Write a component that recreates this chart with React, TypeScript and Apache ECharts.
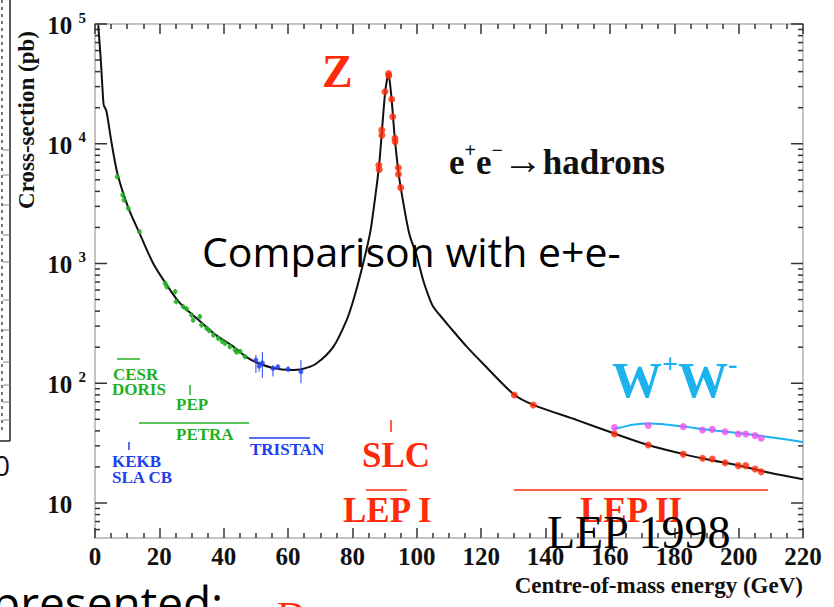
import React, { useEffect, useRef } from 'react';
import * as echarts from 'echarts';

// Theory curve e+e- -> hadrons (E in GeV, sigma in pb)
const curveE = [1.0, 1.8, 2.5, 2.75, 3.1, 3.6, 5.2, 7.0, 10.4, 13.8, 18.1, 21.7, 26.4, 32.6, 37.8, 43.0, 47.1, 50.2, 55.4, 60.6, 64.2, 68.9, 74.1, 78.2, 80.3, 82.9, 85.4, 86.2, 88.2, 89.1, 90.1, 90.7, 91.15, 91.6, 92.2, 92.6, 93.2, 94.25, 95.0, 97.6, 100.0, 102.0, 103.6, 105.0, 107.0, 110.0, 115.5, 120.0, 130.3, 136.2, 150.0, 161.4, 171.9, 182.8, 190.0, 200.0, 210.0, 220.0];
const curveSigma = [98000, 50000, 24000, 20800, 20000, 18500, 10000, 5600, 2900, 1800, 1000, 700, 466, 330, 250, 202, 165, 149, 134, 129, 131, 147, 202, 337, 495, 900, 1750, 2400, 6300, 12200, 26000, 34000, 37500, 33000, 23000, 17000, 10800, 5900, 4300, 1800, 1150, 720, 540, 440, 375, 300, 202, 151, 80, 66, 49, 38, 30.5, 25.6, 23.2, 20.6, 17.8, 15.8];

// W+W- theory curve
const wwE = [161.0, 163.0, 167.0, 172.7, 182.8, 190.0, 196.3, 208.7, 218.0, 220.0];
const wwSigma = [41.5, 42.5, 45.0, 46.0, 43.5, 41.0, 39.4, 35.8, 33.0, 32.3];

// Low-energy data [E, sigma, lo, hi]
const greenPoints = [
  [6.9, 5300, 5050, 5550], [8.6, 3730, 3550, 3900], [9.0, 3390, 3230, 3550], [10.35, 2890, 2750, 3030],
  [13.8, 1845, 1760, 1930], [21.8, 684, 650, 720], [22.3, 640, 605, 675], [24.9, 582, 550, 615],
  [25.2, 480, 455, 505], [27.4, 436, 413, 460], [28.5, 417, 395, 440], [30.0, 372, 352, 392],
  [30.5, 337, 320, 355], [32.6, 360, 340, 380], [33.1, 306, 290, 323], [34.7, 288, 273, 304],
  [35.5, 275, 261, 290], [36.8, 253, 240, 267], [38.3, 237, 225, 250], [39.5, 224, 213, 236],
  [40.4, 215, 204, 227], [41.9, 202, 192, 213], [43.5, 190, 180, 200], [44.0, 182, 173, 192],
  [45.1, 184, 175, 194], [46.6, 167, 158, 176],
];
const bluePoints = [
  [50.0, 156, 122, 172], [51.0, 139, 125, 152], [52.0, 148, 111, 182], [55.3, 133, 114, 142],
  [56.8, 137, 130, 144], [60.0, 131, 124, 138], [64.0, 125, 100, 156],
];
// LEP / SLC data
const zPeakE = [88.2, 88.3, 89.1, 89.15, 90.1, 91.2, 91.3, 92.2, 92.5, 93.2, 93.25, 94.25, 94.3, 95.0];
const zPeakSigma = [6600, 6100, 13000, 11800, 27200, 38500, 37000, 23500, 16800, 11100, 10400, 6300, 5560, 4300];
const lep2E = [130.3, 136.2, 161.4, 171.9, 182.8, 188.8, 191.8, 195.8, 199.9, 202.2, 205.1, 207.0];
const lep2Sigma = [79.8, 65.8, 37.7, 30.5, 25.6, 23.6, 23.3, 21.7, 20.5, 20.5, 19.2, 18.2];
const wwDataE = [161.4, 171.9, 182.8, 188.8, 191.8, 195.8, 199.9, 202.2, 205.1, 207.0];
const wwDataSigma = [42.6, 44.3, 43.4, 40.7, 41.2, 39.4, 37.7, 37.7, 36.5, 34.7];

// Axis ticks
const yMajorTicks = [10, 100, 1000, 10000, 100000];
const yMinorTicks = [6, 7, 8, 9, 20, 30, 40, 50, 60, 70, 80, 90, 200, 300, 400, 500, 600, 700, 800, 900,
  2000, 3000, 4000, 5000, 6000, 7000, 8000, 9000, 20000, 30000, 40000, 50000, 60000, 70000, 80000, 90000];

const SERIF = 'Liberation Serif';
const SANS = 'Open Sans';
const RED = '#ff2a0a';
const GREEN = '#22b022';
const BLUE = '#2040f0';
const CYAN = '#1ab2ef';
const MAGENTA = '#f050f0';

const zip = (a: number[], b: number[]) => a.map((v, i) => [v, b[i]]);

const txt = (x: number, y: number, text: string, size: number, fill: string, extra: any = {}) => ({
  type: 'text', x, y, z: 100,
  style: {
    text, fontFamily: SERIF, fontWeight: 'bold', fontSize: size, fill,
    align: 'left', verticalAlign: 'middle', ...extra,
  },
});
const ln = (x1: number, y1: number, x2: number, y2: number, stroke: string, lineWidth = 1.5) => ({
  type: 'line', z: 100, shape: { x1, y1, x2, y2 }, style: { stroke, lineWidth },
});

const errorBarSeries = (pts: number[][], color: string) => ({
  type: 'custom',
  silent: true,
  z: 3,
  data: pts.map((p) => [p[0], p[2], p[3]]),
  encode: { x: 0, y: [1, 2] },
  renderItem: (_p: any, api: any) => {
    const a = api.coord([api.value(0), api.value(1)]);
    const b = api.coord([api.value(0), api.value(2)]);
    return { type: 'line', shape: { x1: a[0], y1: a[1], x2: b[0], y2: b[1] }, style: { stroke: color, lineWidth: 1 } };
  },
});

export default function App() {
  const ref = useRef<HTMLDivElement>(null);
  useEffect(() => {
    const chart = echarts.init(ref.current!, null, { renderer: 'svg' });
    const axisLineStyle = { color: '#c4c4c4', width: 2 };
    const tickStyle = { color: '#333', width: 1.5 };
    const xCommon = {
      type: 'value', min: 0, max: 220, interval: 20,
      axisLine: { show: true, onZero: false, lineStyle: axisLineStyle },
      axisTick: { show: true, inside: true, length: 10, lineStyle: tickStyle },
      minorTick: { show: true, splitNumber: 4, length: 5, lineStyle: tickStyle },
      splitLine: { show: false }, minorSplitLine: { show: false },
    };
    const yCommon = {
      type: 'log', logBase: 10, min: 5.1, max: 100000,
      axisLine: { show: true, onZero: false, lineStyle: axisLineStyle },
      axisTick: { show: false }, splitLine: { show: false },
    };
    const yTitle: any = txt(26, 120, 'Cross-section (pb)', 23, '#111', { align: 'center' });
    yTitle.rotation = Math.PI / 2;
    const option: any = {
      animation: false,
      backgroundColor: '#fff',
      grid: { left: 95, right: 31, top: 24, bottom: 69, containLabel: false },
      xAxis: [
        {
          ...xCommon, position: 'bottom',
          axisLabel: { fontFamily: SERIF, fontWeight: 'bold', fontSize: 25, color: '#111', margin: 6 },
        },
        { ...xCommon, position: 'top', axisLabel: { show: false } },
      ],
      yAxis: [
        {
          ...yCommon, position: 'left',
          axisLabel: {
            margin: 9,
            formatter: (v: number) => {
              const lg = Math.log10(v);
              const e = Math.round(lg);
              if (Math.abs(lg - e) > 1e-6) return '';
              if (e === 1) return '{b|10 }{h|1}';
              return '{b|10 }{s|' + e + '}';
            },
            rich: {
              b: { fontFamily: SERIF, fontWeight: 'bold', fontSize: 25, color: '#111', lineHeight: 28, verticalAlign: 'bottom' },
              s: { fontFamily: SERIF, fontWeight: 'bold', fontSize: 15, color: '#111', lineHeight: 12, verticalAlign: 'top' },
              h: { fontFamily: SERIF, fontWeight: 'bold', fontSize: 15, color: 'rgba(0,0,0,0)', lineHeight: 12, verticalAlign: 'top' },
            },
          },
        },
        { ...yCommon, position: 'right', axisLabel: { show: false } },
      ],
      series: [
        {
          type: 'custom', silent: true, clip: false, z: 1,
          data: [...yMajorTicks.map((v) => [0, v, 1]), ...yMinorTicks.map((v) => [0, v, 0])],
          encode: { x: 0, y: 1 },
          renderItem: (_p: any, api: any) => {
            const v = api.value(1);
            const len = api.value(2) ? 12 : 5;
            const l = api.coord([0, v]);
            const r = api.coord([220, v]);
            return {
              type: 'group',
              children: [
                { type: 'line', shape: { x1: l[0], y1: l[1], x2: l[0] + len, y2: l[1] }, style: { stroke: '#333', lineWidth: 1.5 } },
                { type: 'line', shape: { x1: r[0] - len, y1: r[1], x2: r[0], y2: r[1] }, style: { stroke: '#333', lineWidth: 1.5 } },
              ],
            };
          },
        },
        {
          name: 'e+e- -> hadrons', type: 'line', data: zip(curveE, curveSigma), showSymbol: false,
          smooth: 0.3, z: 2,
          lineStyle: { color: '#111', width: 2 },
        },
        {
          name: 'W+W-', type: 'line', data: zip(wwE, wwSigma), showSymbol: false, smooth: 0.3, z: 2,
          lineStyle: { color: CYAN, width: 2 },
        },
        errorBarSeries(greenPoints, GREEN),
        errorBarSeries(bluePoints, BLUE),
        {
          type: 'scatter', data: greenPoints.map((p) => [p[0], p[1]]), symbolSize: 5, z: 4,
          itemStyle: { color: GREEN },
        },
        {
          type: 'scatter', data: bluePoints.map((p) => [p[0], p[1]]), symbolSize: 5, z: 4,
          itemStyle: { color: BLUE },
        },
        {
          type: 'scatter', data: zip(zPeakE, zPeakSigma), symbolSize: 7, z: 5,
          itemStyle: { color: RED },
        },
        {
          type: 'scatter', data: zip(lep2E, lep2Sigma), symbolSize: 7, z: 5,
          itemStyle: { color: RED },
        },
        {
          type: 'scatter', data: zip(wwDataE, wwDataSigma), symbolSize: 7, z: 5,
          itemStyle: { color: MAGENTA },
        },
      ],
      graphic: [
        // left-edge fragment of a neighbouring figure
        ln(10, 0, 10, 441, '#222', 1.5),
        ln(0, 441, 10, 441, '#222', 1.5),
        { type: 'line', z: 100, shape: { x1: 2, y1: 0, x2: 2, y2: 430 }, style: { stroke: '#777', lineWidth: 2, lineDash: [3, 4] } },
        ...[150, 175, 205, 235, 262, 300, 330, 362, 385, 402, 420].map((y) => ln(3, y, 10, y, '#888', 1)),
        txt(-6, 465, '0', 28, '#111', { fontFamily: SANS, fontWeight: 'normal' }),
        // axis titles
        yTitle,
        txt(803, 585, 'Centre-of-mass energy (GeV)', 23, '#111', { align: 'right' }),
        // process labels
        txt(322, 71, 'Z', 46, RED),
        {
          type: 'text', x: 449, y: 160, z: 100,
          style: {
            text: '{e|e}{s|+}{e|e}{s|\u2212}{a|\u2192}{e|hadrons}',
            align: 'left', verticalAlign: 'middle',
            rich: {
              e: { fontFamily: SERIF, fontWeight: 'bold', fontSize: 35, fill: '#111', lineHeight: 40, verticalAlign: 'bottom' },
              a: { fontFamily: SERIF, fontWeight: 'bold', fontSize: 40, fill: '#111', lineHeight: 40, verticalAlign: 'bottom' },
              s: { fontFamily: SERIF, fontWeight: 'bold', fontSize: 20, fill: '#111', lineHeight: 20, verticalAlign: 'top' },
            },
          },
        },
        {
          type: 'text', x: 612, y: 377, z: 100,
          style: {
            text: '{w|W}{s|+}{w|W}{s|-}',
            align: 'left', verticalAlign: 'middle',
            rich: {
              w: { fontFamily: SERIF, fontWeight: 'bold', fontSize: 50, fill: CYAN, lineHeight: 56, verticalAlign: 'bottom' },
              s: { fontFamily: SERIF, fontWeight: 'bold', fontSize: 28, fill: CYAN, lineHeight: 28, verticalAlign: 'top' },
            },
          },
        },
        // experiments
        ln(117, 359, 140, 359, GREEN),
        txt(113, 374, 'CESR', 17, GREEN),
        txt(112, 389, 'DORIS', 17, GREEN),
        ln(190, 385, 190, 395, GREEN),
        txt(176, 404, 'PEP', 17, GREEN),
        ln(139, 423, 249, 423, GREEN),
        txt(176, 434, 'PETRA', 17, GREEN),
        ln(249, 438, 310, 438, BLUE),
        txt(250, 449, 'TRISTAN', 17, BLUE),
        ln(129, 442, 129, 450, BLUE),
        txt(112, 461, 'KEKB', 17, BLUE),
        txt(112, 477, 'SLA CB', 17, BLUE),
        ln(391, 420, 391, 432, RED),
        txt(362, 455, 'SLC', 35, RED),
        ln(366, 490, 407, 490, RED),
        txt(343, 510, 'LEP I', 35, RED),
        ln(514, 490, 768, 490, RED),
        txt(580, 510, 'LEP II', 35, RED),
        // slide overlay texts
        txt(202, 251, 'Comparison with e+e-', 41, '#000', { fontFamily: SANS, fontWeight: 'normal' }),
        txt(547, 532, 'LEP 1998', 46, '#000', { fontWeight: 'normal' }),
        txt(-8, 602, 'presented:', 46, '#000', { fontFamily: SANS, fontWeight: 'normal' }),
        txt(277, 615, 'D', 40, RED, { fontWeight: 'normal' }),
      ],
    };
    chart.setOption(option);
    return () => chart.dispose();
  }, []);
  return (
    <div
      ref={ref}
      style={{ position: 'fixed', left: 0, top: 0, width: 834, height: 607, background: '#fff' }}
    />
  );
}
